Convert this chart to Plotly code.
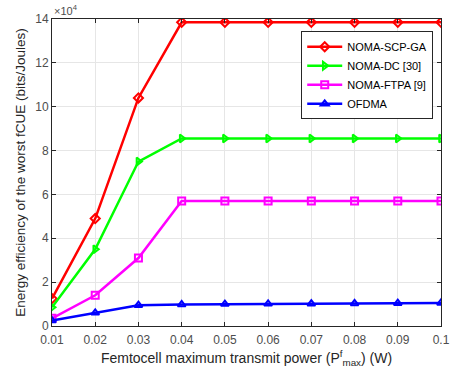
import plotly.graph_objects as go

x = [0.01, 0.02, 0.03, 0.04, 0.05, 0.06, 0.07, 0.08, 0.09, 0.1]
scp_ga = [1.25, 4.9, 10.4, 13.85, 13.85, 13.85, 13.85, 13.85, 13.85, 13.85]
dc = [0.85, 3.5, 7.5, 8.55, 8.55, 8.55, 8.55, 8.55, 8.55, 8.55]
ftpa = [0.35, 1.4, 3.1, 5.7, 5.7, 5.7, 5.7, 5.7, 5.7, 5.7]
ofdma = [0.25, 0.6, 0.95, 0.98, 1.0, 1.01, 1.02, 1.03, 1.04, 1.05]
names = ["NOMA-SCP-GA", "NOMA-DC [30]", "NOMA-FTPA [9]", "OFDMA"]
colors = ["#ff0000", "#00ff00", "#ff00ff", "#0000ff"]
symbols = ["diamond-open", "triangle-right-open", "square-open", "triangle-up-open"]
xticks = ["0.01", "0.02", "0.03", "0.04", "0.05", "0.06", "0.07", "0.08", "0.09", "0.1"]
yticks = [0, 2, 4, 6, 8, 10, 12, 14]

fig = go.Figure()
for name, ys, c, s in zip(names, [scp_ga, dc, ftpa, ofdma], colors, symbols):
    fig.add_trace(go.Scatter(x=x, y=ys, name=name, mode="lines+markers",
                             line=dict(color=c, width=2.5),
                             marker=dict(symbol=s, size=7, color=c, line=dict(width=2, color=c))))

fig.update_layout(
    width=459, height=377,
    margin=dict(l=52, r=9, t=19, b=51),
    paper_bgcolor="white", plot_bgcolor="white",
    font=dict(family="Liberation Sans, Arial", size=12, color="#4d4d4d"),
    showlegend=True,
    legend=dict(x=0.98, y=0.96, xanchor="right", yanchor="top",
                bgcolor="white", bordercolor="#262626", borderwidth=1,
                font=dict(size=11, color="#000"), tracegroupgap=0, itemwidth=35),
    xaxis=dict(range=[0.01, 0.1], tickvals=x, ticktext=xticks,
               showgrid=True, gridcolor="#e6e6e6", zeroline=False,
               showline=True, linecolor="#262626", mirror="ticks",
               ticks="inside", ticklen=4, tickcolor="#262626", ticklabelstandoff=3,
               title=dict(text="Femtocell maximum transmit power (P<sup>f</sup><sub>max</sub>) (W)", standoff=6,
                          font=dict(size=14, color="#262626"))),
    yaxis=dict(range=[0, 14], tickvals=yticks, ticktext=[str(v) for v in yticks],
               showgrid=True, gridcolor="#e6e6e6", zeroline=False,
               showline=True, linecolor="#262626", mirror="ticks",
               ticks="inside", ticklen=4, tickcolor="#262626",
               title=dict(text="Energy efficiency of the worst fCUE (bits/Joules)", standoff=6,
                          font=dict(size=13.5, color="#262626"))),
    annotations=[dict(text="×10<sup>4</sup>", xref="paper", yref="paper", x=0, y=1.0,
                      xanchor="left", yanchor="bottom", showarrow=False,
                      font=dict(size=11, color="#4d4d4d"))],
)
fig.write_html("out.html")
